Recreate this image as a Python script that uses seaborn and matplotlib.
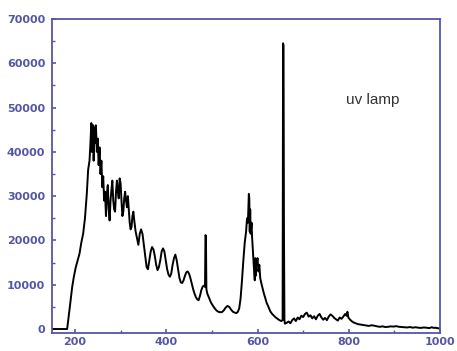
import numpy as np
import pandas as pd
import matplotlib
matplotlib.use("Agg")
import matplotlib.pyplot as plt
import seaborn as sns
from matplotlib.ticker import MultipleLocator

# spectrum (wavelength, counts)
wavelength = [
    150, 170, 183, 186, 190, 194, 198, 202, 206, 210, 214, 218, 222, 226, 229,
    232, 234, 236, 237, 238, 240, 241, 243, 244, 246, 248, 250, 252, 254, 256,
    258, 260, 262, 264, 266, 268, 270, 272, 274, 276, 278, 280, 282, 284, 286,
    288, 290, 292, 294, 296, 298, 300, 302, 304, 306, 308, 310, 312, 314, 316,
    318, 320, 322, 324, 326, 328, 330, 333, 336, 339, 342, 345, 348, 351, 354,
    357, 360, 363, 366, 369, 372, 375, 378, 381, 384, 387, 390, 393, 396, 399,
    402, 405, 408, 411, 414, 417, 420, 423, 426, 429, 432, 435, 438, 441, 444,
    447, 450, 453, 456, 459, 462, 465, 468, 471, 474, 477, 480, 483, 485, 486,
    487, 488, 490, 494, 498, 502, 506, 510, 514, 518, 522, 526, 530, 534, 538,
    542, 546, 550, 554, 557, 560, 563, 566, 569, 572, 575, 577, 579, 580, 581,
    582, 583, 584, 585, 587, 588, 590, 592, 594, 595, 596, 597, 598, 600, 602,
    604, 606, 608, 611, 614, 617, 620, 624, 628, 632, 636, 640, 644, 648, 652,
    655, 656, 657, 658, 659, 660, 664, 668, 672, 676, 680, 684, 688, 692, 696,
    700, 704, 708, 712, 716, 720, 724, 728, 732, 736, 740, 744, 748, 752, 756,
    760, 764, 768, 772, 776, 780, 784, 788, 792, 795, 797, 799, 802, 806, 810,
    815, 820, 826, 832, 838, 844, 850, 856, 862, 868, 874, 880, 886, 892, 898,
    904, 910, 916, 922, 928, 934, 940, 946, 952, 958, 964, 970, 976, 982, 986,
    990, 996, 1000,
]
counts = [
    0, 0, 0, 2500, 6000, 9500, 12000, 14000, 15500, 17000, 19500, 21500, 25000, 30500, 36000,
    38000, 42000, 46500, 40000, 44000, 46000, 38000, 45500, 42000, 46000, 40000, 43000, 37000, 41000, 35000,
    38000, 32000, 34500, 29000, 31000, 25500, 30500, 32500, 27000, 24500, 29000, 31500, 33500, 29000, 27000,
    26500, 31000, 33500, 31000, 29500, 34000, 33000, 29000, 25500, 26500, 29500, 31000, 29000, 27500, 30000,
    27000, 24000, 22500, 23000, 25500, 26500, 24500, 22000, 20500, 19000, 21500, 22500, 21500, 19000, 16500,
    14000, 13500, 15500, 17500, 18500, 18000, 16500, 14500, 13300, 14000, 15500, 17500, 18200, 17500, 15500,
    13500, 12300, 11800, 12500, 14500, 16000, 16800, 15500, 13500, 11500, 10500, 10400, 11000, 12000, 12800,
    13000, 12500, 11500, 10200, 9000, 8000, 7200, 6700, 6500, 7500, 8800, 9600, 9800, 9500, 21200,
    21000, 9000, 8000, 7000, 6000, 5300, 4700, 4200, 3900, 3800, 3800, 4200, 4800, 5200, 5000,
    4400, 3900, 3700, 3600, 3900, 4700, 7000, 11000, 15500, 19500, 22000, 25000, 24000, 27500, 30500,
    29500, 22000, 27000, 21500, 24000, 21000, 17500, 14000, 11000, 16000, 12000, 15500, 14500, 16000, 13000,
    14500, 11500, 10500, 9200, 8000, 7000, 5900, 5000, 4000, 3400, 3000, 2600, 2300, 2000, 1800,
    2000, 64500, 64000, 21000, 2000, 1200, 1400, 1700, 1300, 2000, 2400, 1800, 2600, 2200, 3000,
    2700, 3400, 3700, 2800, 3100, 2400, 2900, 2200, 3000, 3400, 2600, 2100, 2500, 2000, 2800,
    3300, 3000, 2500, 2200, 1900, 2600, 2300, 2800, 3400, 3000, 3900, 2600, 2200, 1800, 1500,
    1300, 1100, 1000, 900, 800, 700, 850, 750, 600, 500, 600, 450, 500, 600, 550,
    650, 500, 450, 400, 350, 450, 300, 400, 300, 250, 350, 300, 200, 400, 250,
    300, 150, 200,
]

x_ticks = [200, 400, 600, 800, 1000]
y_ticks = [0, 10000, 20000, 30000, 40000, 50000, 60000, 70000]
label = "uv lamp"

df = pd.DataFrame({"wavelength": wavelength, "counts": counts})

sns.set_style("ticks")
axis_blue = "#5556a6"

fig = plt.figure(figsize=(4.57, 3.51), dpi=100)
ax = fig.add_axes([0.114, 0.050, 0.849, 0.896])

sns.lineplot(data=df, x="wavelength", y="counts", ax=ax, color="black",
             linewidth=1.4, sort=False)

ax.set_xlim(150, 1000)
ax.set_ylim(-1000, 70000)
ax.set_xticks(x_ticks)
ax.set_yticks(y_ticks)
ax.xaxis.set_minor_locator(MultipleLocator(100))
ax.yaxis.set_minor_locator(MultipleLocator(5000))
ax.set_xlabel("")
ax.set_ylabel("")

for side in ax.spines.values():
    side.set_color(axis_blue)
    side.set_linewidth(1.3)

ax.tick_params(which="major", direction="in", length=3, width=1.2,
               color=axis_blue, labelcolor=axis_blue, labelsize=8, pad=5)
ax.tick_params(axis="x", which="major", pad=2.5)
ax.tick_params(which="minor", direction="in", length=2, width=1.0,
               color=axis_blue)
for t in ax.get_xticklabels() + ax.get_yticklabels():
    t.set_fontweight("bold")

ax.text(853, 51700, label, ha="center", va="center", fontsize=11,
        color="#333333", family="Liberation Sans")

fig.savefig("out.png", dpi=100)
